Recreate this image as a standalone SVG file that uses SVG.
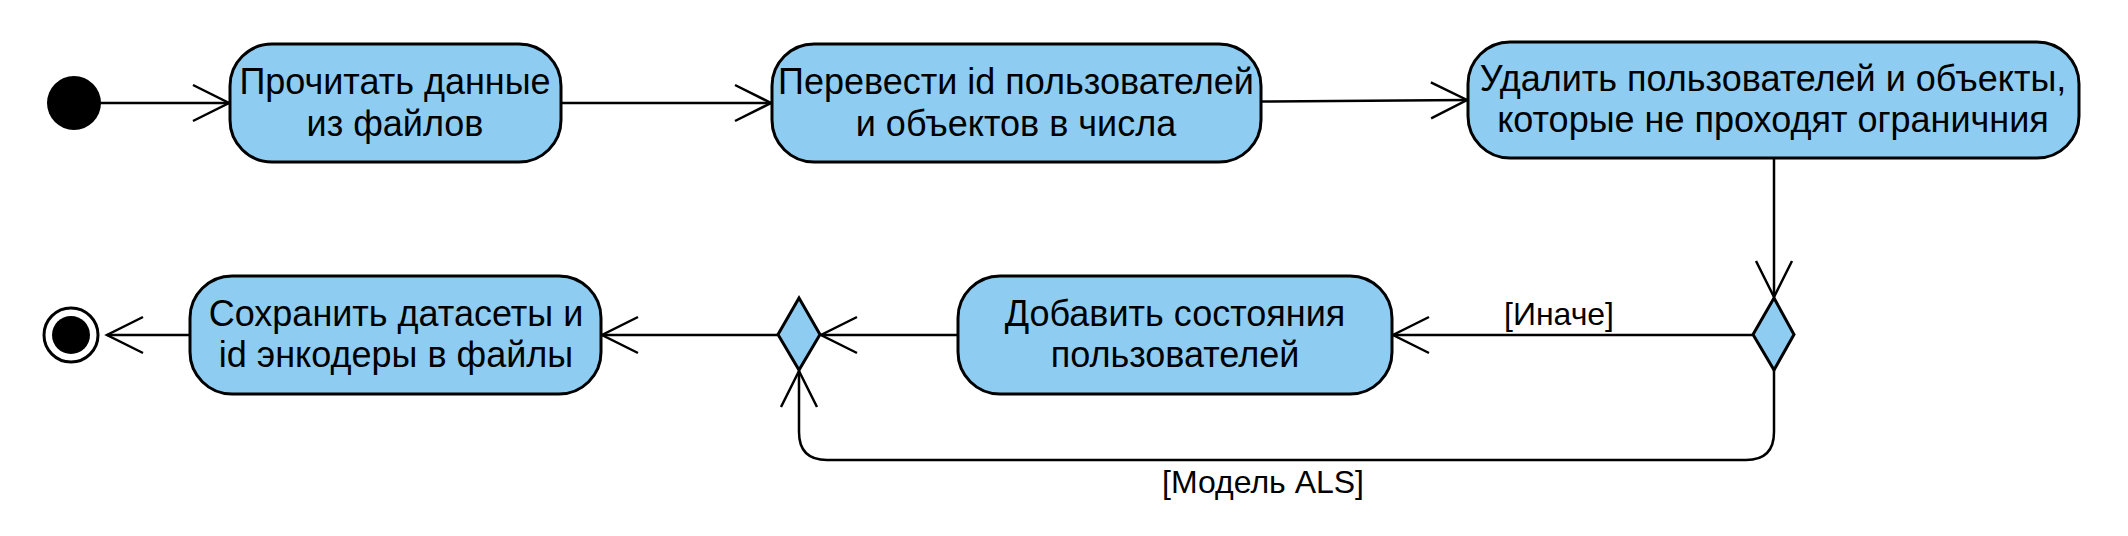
<svg xmlns="http://www.w3.org/2000/svg" width="2128" height="536" viewBox="0 0 2128 536">
<style>
.act{fill:#8ECDF1;stroke:#000;stroke-width:3}
.dec{fill:#8ECDF1;stroke:#000;stroke-width:3}
.t{font-family:"Liberation Sans",Arial,sans-serif;font-size:36px;fill:#000;text-anchor:middle}
.lbl{font-family:"Liberation Sans",Arial,sans-serif;font-size:32px;fill:#000;text-anchor:middle}
.edge{fill:none;stroke:#000;stroke-width:2.5}
</style>
<defs>
<marker id="open" markerUnits="userSpaceOnUse" viewBox="-40 -22 44 44" markerWidth="44" markerHeight="44" refX="0" refY="0" orient="auto" overflow="visible">
<path d="M -36 -18 L 0 0 L -36 18" fill="none" stroke="#000" stroke-width="2.5"/>
</marker>
</defs>
<rect width="2128" height="536" fill="#fff"/>
<g id="connectors">
<line class="edge" x1="100" y1="103" x2="229" y2="103" marker-end="url(#open)"/>
<line class="edge" x1="561" y1="103" x2="771" y2="103" marker-end="url(#open)"/>
<line class="edge" x1="1261" y1="101.5" x2="1467" y2="100" marker-end="url(#open)"/>
<line class="edge" x1="1774" y1="158" x2="1774" y2="297" marker-end="url(#open)"/>
<line class="edge" x1="1753" y1="335" x2="1393" y2="335" marker-end="url(#open)"/>
<text class="lbl" x="1559" y="325">[Иначе]</text>
<path class="edge" d="M 1774 370 L 1774 432 Q 1774 460 1746 460 L 827 460 Q 799 460 799 432 L 799 371" marker-end="url(#open)"/>
<text class="lbl" x="1263" y="493">[Модель ALS]</text>
<line class="edge" x1="958" y1="335" x2="821" y2="335" marker-end="url(#open)"/>
<line class="edge" x1="778" y1="335" x2="602" y2="335" marker-end="url(#open)"/>
<line class="edge" x1="190" y1="335" x2="107" y2="335" marker-end="url(#open)"/>
</g>
<g id="start"><circle cx="74" cy="103" r="27" fill="#000"/></g>
<g id="n1">
<rect class="act" x="230" y="44" width="331" height="118" rx="42" ry="42"/>
<text class="t" x="395" y="94">Прочитать данные</text>
<text class="t" x="395" y="136">из файлов</text>
</g>
<g id="n2">
<rect class="act" x="772" y="44" width="489" height="118" rx="42" ry="42"/>
<text class="t" x="1016" y="94">Перевести id пользователей</text>
<text class="t" x="1016" y="136">и объектов в числа</text>
</g>
<g id="n3">
<rect class="act" x="1468" y="42" width="611" height="116" rx="42" ry="42"/>
<text class="t" x="1773" y="91">Удалить пользователей и объекты,</text>
<text class="t" x="1773" y="132">которые не проходят ограничния</text>
</g>
<g id="d1"><polygon class="dec" points="1774,298 1794,334.5 1774,370 1753,334.5"/></g>
<g id="n4">
<rect class="act" x="958" y="276" width="434" height="118" rx="42" ry="42"/>
<text class="t" x="1175" y="326">Добавить состояния</text>
<text class="t" x="1175" y="367">пользователей</text>
</g>
<g id="d2"><polygon class="dec" points="799,298 820,334.5 799,370 778,334.5"/></g>
<g id="n5">
<rect class="act" x="190" y="276" width="411" height="118" rx="42" ry="42"/>
<text class="t" x="396" y="326">Сохранить датасеты и</text>
<text class="t" x="396" y="367">id энкодеры в файлы</text>
</g>
<g id="end">
<circle cx="71" cy="335" r="27" fill="#fff" stroke="#000" stroke-width="3"/>
<circle cx="71" cy="335" r="19" fill="#000"/>
</g>
</svg>
